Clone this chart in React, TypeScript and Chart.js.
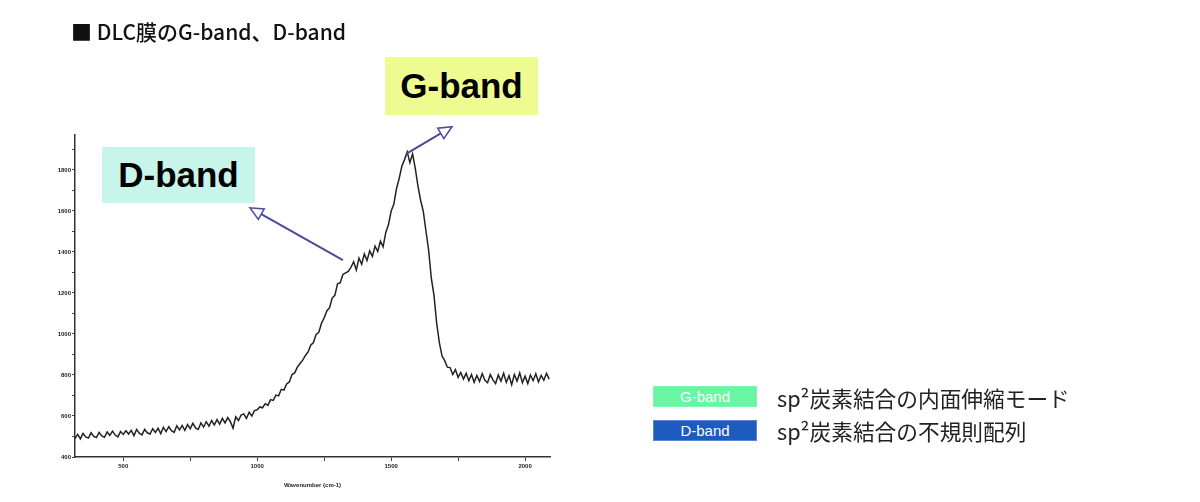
import React, { useEffect, useRef } from "react";
import { Chart, registerables } from "chart.js";

Chart.register(...registerables);

// Raman spectrum of DLC film (wavenumber in cm-1, intensity in a.u.)
const wavenumbers = [
  320, 330, 340, 350, 360, 370, 380, 390, 400, 410,
  420, 430, 440, 450, 460, 470, 480, 490, 500, 510,
  520, 530, 540, 550, 560, 570, 580, 590, 600, 610,
  620, 630, 640, 650, 660, 670, 680, 690, 700, 710,
  720, 730, 740, 750, 760, 770, 780, 790, 800, 810,
  820, 830, 840, 850, 860, 870, 880, 890, 900, 910,
  920, 930, 940, 950, 960, 970, 980, 990, 1000, 1010,
  1020, 1030, 1040, 1050, 1060, 1070, 1080, 1090, 1100, 1110,
  1120, 1130, 1140, 1150, 1160, 1170, 1180, 1190, 1200, 1210,
  1220, 1230, 1240, 1250, 1260, 1270, 1280, 1290, 1300, 1310,
  1320, 1330, 1340, 1350, 1360, 1370, 1380, 1390, 1400, 1410,
  1420, 1430, 1440, 1450, 1460, 1470, 1480, 1490, 1500, 1510,
  1520, 1530, 1540, 1550, 1560, 1570, 1580, 1590, 1600, 1610,
  1620, 1630, 1640, 1650, 1660, 1670, 1680, 1690, 1700, 1710,
  1720, 1730, 1740, 1750, 1760, 1770, 1780, 1790, 1800, 1810,
  1820, 1830, 1840, 1850, 1860, 1870, 1880, 1890, 1900, 1910,
  1920, 1930, 1940, 1950, 1960, 1970, 1980, 1990, 2000, 2010,
  2020, 2030, 2040, 2050, 2060, 2070, 2080, 2090,
];

const intensity = [
  490, 510, 488, 515, 498, 492, 518, 500, 495, 520,
  503, 496, 522, 505, 526, 507, 498, 524, 510, 528,
  512, 530, 504, 534, 516, 508, 535, 518, 512, 538,
  520, 540, 514, 545, 524, 548, 528, 520, 552, 532,
  554, 530, 558, 538, 564, 542, 534, 566, 546, 572,
  550, 578, 556, 582, 560, 588, 566, 592, 572, 540,
  596, 578, 604, 610, 588, 618, 600, 626, 630, 644,
  640, 660, 652, 680, 676, 702, 698, 730, 726, 756,
  766, 802, 810, 838, 856, 872, 895, 912, 945, 958,
  998, 1008, 1052, 1078, 1112, 1128, 1175, 1188, 1245, 1250,
  1290, 1298, 1305, 1325, 1352, 1312, 1370, 1340, 1390, 1358,
  1405, 1378, 1428, 1402, 1452, 1425, 1495, 1532, 1598, 1632,
  1708, 1758, 1818, 1850, 1888, 1835, 1878, 1808, 1722, 1652,
  1598, 1502, 1408, 1272, 1188, 1052, 958, 892, 870, 838,
  836, 802, 826, 788, 812, 780, 808, 772, 802, 764,
  798, 768, 806, 774, 762, 802, 776, 758, 800, 770,
  808, 764, 796, 752, 802, 770, 810, 762, 794, 758,
  800, 772, 806, 766, 798, 774, 808, 780,
];

const xMajorTicks = [500, 1000, 1500, 2000];
const xMinorTicks = [750, 1250, 1750];
const yMajorTicks = [400, 600, 800, 1000, 1200, 1400, 1600, 1800];
const yMinorTicks = [500, 700, 900, 1100, 1300, 1500, 1700, 1900];

// annotation arrows (data units): from tail to head
const arrowTailX = [1320, 1556];
const arrowTailY = [1360, 1878];
const arrowHeadX = [973, 1727];
const arrowHeadY = [1615, 2010];

const titleText = "■ DLC膜のG-band、D-band";
const legendLabels = ["G-band", "D-band"];
const legendDescriptions = ["sp²炭素結合の内面伸縮モード", "sp²炭素結合の不規則配列"];

const arrowPlugin = {
  id: "bandArrows",
  afterDatasetsDraw(chart: any) {
    const { ctx, scales } = chart;
    const xs = scales.x;
    const ys = scales.y;
    ctx.save();
    for (let i = 0; i < arrowTailX.length; i++) {
      const x1 = xs.getPixelForValue(arrowTailX[i]);
      const y1 = ys.getPixelForValue(arrowTailY[i]);
      const x2 = xs.getPixelForValue(arrowHeadX[i]);
      const y2 = ys.getPixelForValue(arrowHeadY[i]);
      const ang = Math.atan2(y2 - y1, x2 - x1);
      const headLen = 13;
      const headW = 6;
      const bx = x2 - headLen * Math.cos(ang);
      const by = y2 - headLen * Math.sin(ang);
      ctx.strokeStyle = "#4a4a9c";
      ctx.lineWidth = 2;
      ctx.beginPath();
      ctx.moveTo(x1, y1);
      ctx.lineTo(bx, by);
      ctx.stroke();
      ctx.beginPath();
      ctx.moveTo(x2, y2);
      ctx.lineTo(bx + headW * Math.sin(ang), by - headW * Math.cos(ang));
      ctx.lineTo(bx - headW * Math.sin(ang), by + headW * Math.cos(ang));
      ctx.closePath();
      ctx.fillStyle = "#ffffff";
      ctx.fill();
      ctx.lineWidth = 1.5;
      ctx.stroke();
    }
    ctx.restore();
  },
};

export default function App() {
  const canvasRef = useRef<HTMLCanvasElement | null>(null);

  useEffect(() => {
    if (!canvasRef.current) return;
    const points = wavenumbers.map((w, i) => ({ x: w, y: intensity[i] }));
    const chart = new Chart(canvasRef.current, {
      type: "line",
      data: {
        datasets: [
          {
            data: points,
            borderColor: "#222222",
            borderWidth: 1.5,
            pointRadius: 0,
            tension: 0,
            fill: false,
          },
        ],
      },
      options: {
        animation: false,
        responsive: true,
        maintainAspectRatio: false,
        layout: { padding: { left: 45, right: 650, top: 135, bottom: 13 } },
        plugins: {
          legend: { display: false },
          tooltip: { enabled: false },
          title: { display: false },
        },
        scales: {
          x: {
            type: "linear",
            min: 320,
            max: 2093,
            afterFit: (s: any) => {
              s.height = 32;
            },
            afterBuildTicks: (s: any) => {
              s.ticks = [...xMajorTicks, ...xMinorTicks]
                .sort((a, b) => a - b)
                .map((v) => ({ value: v }));
            },
            grid: {
              display: true,
              drawOnChartArea: false,
              drawTicks: true,
              tickLength: 4,
              color: "#444",
            },
            border: { display: true, color: "#333", width: 1.5 },
            ticks: {
              autoSkip: false,
              maxRotation: 0,
              padding: 2,
              color: "#222",
              font: { family: "Liberation Sans", size: 6, weight: "bold" },
              callback: (v: any) => (xMajorTicks.includes(Number(v)) ? String(v) : ""),
            },
            title: {
              display: true,
              text: "Wavenumber (cm-1)",
              color: "#222",
              font: { family: "Liberation Sans", size: 6, weight: "bold" },
              padding: { top: 4, bottom: 0 },
            },
          },
          y: {
            type: "linear",
            min: 400,
            max: 1970,
            afterFit: (s: any) => {
              s.width = 30;
            },
            afterBuildTicks: (s: any) => {
              s.ticks = [...yMajorTicks, ...yMinorTicks]
                .sort((a, b) => a - b)
                .map((v) => ({ value: v }));
            },
            grid: {
              display: true,
              drawOnChartArea: false,
              drawTicks: true,
              tickLength: 3,
              color: "#444",
            },
            border: { display: true, color: "#333", width: 1.5 },
            ticks: {
              autoSkip: false,
              padding: 1,
              color: "#222",
              font: { family: "Liberation Sans", size: 6, weight: "bold" },
              callback: (v: any) => (yMajorTicks.includes(Number(v)) ? String(v) : ""),
            },
          },
        },
      },
      plugins: [arrowPlugin],
    });
    return () => chart.destroy();
  }, []);

  const boxBase: React.CSSProperties = {
    position: "absolute",
    display: "flex",
    alignItems: "center",
    justifyContent: "center",
    fontFamily: "'Liberation Sans', Arial, sans-serif",
    fontWeight: "bold",
    color: "#000",
  };

  return (
    <div
      style={{
        position: "absolute",
        left: 0,
        top: 0,
        width: 1200,
        height: 502,
        background: "#ffffff",
        overflow: "hidden",
      }}
    >
      <canvas ref={canvasRef} style={{ position: "absolute", left: 0, top: 0 }} />
      <div
        style={{
          position: "absolute",
          left: 71,
          top: 21,
          fontFamily: "'Noto Sans CJK JP', sans-serif",
          fontSize: 21,
          fontWeight: 500,
          lineHeight: "21px",
          color: "#111",
          whiteSpace: "nowrap",
        }}
      >
        {titleText}
      </div>
      <div style={{ ...boxBase, left: 102, top: 147, width: 153, height: 56, background: "#c8f5ea", fontSize: 35 }}>
        D-band
      </div>
      <div style={{ ...boxBase, left: 385, top: 57, width: 153, height: 58, background: "#eefb90", fontSize: 35 }}>
        G-band
      </div>
      {legendLabels.map((lab, i) => (
        <React.Fragment key={lab}>
          <div
            style={{
              position: "absolute",
              left: 653,
              top: i === 0 ? 386 : 420,
              width: 104,
              height: 21,
              boxSizing: "border-box",
              background: i === 0 ? "#6af5a2" : "#1d5cbe",
              border: i === 0 ? "1px solid #7ff7b0" : "1px solid #5a86d0",
              color: "#ffffff",
              fontFamily: "'Liberation Sans', Arial, sans-serif",
              fontSize: 15,
              display: "flex",
              alignItems: "center",
              justifyContent: "center",
            }}
          >
            {lab}
          </div>
          <div
            style={{
              position: "absolute",
              left: 777,
              top: i === 0 ? 386 : 419,
              height: 24,
              lineHeight: "24px",
              fontFamily: "'Noto Sans CJK JP', sans-serif",
              fontSize: 21.7,
              color: "#222",
              whiteSpace: "nowrap",
            }}
          >
            {legendDescriptions[i]}
          </div>
        </React.Fragment>
      ))}
    </div>
  );
}
